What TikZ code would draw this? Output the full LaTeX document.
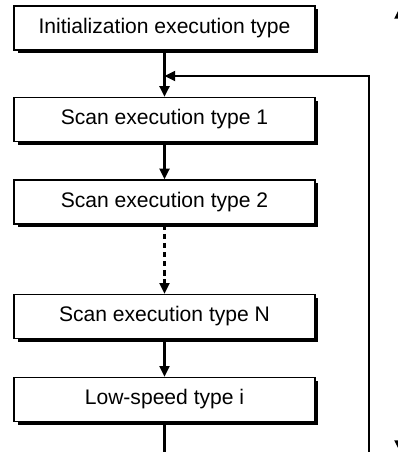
\documentclass[tikz,border=0pt]{standalone}
\usepackage{fontspec}
\setmainfont{Liberation Sans}
\usetikzlibrary{positioning, arrows.meta, shadows}

\tikzset{
  typebox/.style={draw, line width=0.8pt, fill=white, minimum width=6.02cm,
    minimum height=0.88cm, inner sep=0pt, font=\fontsize{12}{14}\selectfont,
    drop shadow={shadow xshift=0.07cm, shadow yshift=-0.07cm, opacity=1, fill=black}},
  flow/.style={line width=1.3pt},
}

\begin{document}
\begin{tikzpicture}[x=0.02cm, y=-0.02cm, >={Triangle[length=6pt,width=5.6pt]}, on grid]
		\useasboundingbox (0,0) rectangle (398,452);
		
		%Execution types
		\node[typebox] (init) at (164.5,28) {Initialization execution type};
		\node[typebox] (scan1) [below=1.83cm of init] {Scan execution type 1};
		\node[typebox] (scan2) [below=1.65cm of scan1] {Scan execution type 2};
		\node[typebox] (scanN) [below=2.29cm of scan2] {Scan execution type N};
		\node[typebox] (lowspeed) [below=1.66cm of scanN] {Low-speed type i};
		
		%Return path
		\coordinate (lowend) at (lowspeed.south |- 0,452);
		\coordinate (retbottom) at (369,452);
		\coordinate (retcorner) at (369,76);
		\coordinate (join) at (init.south |- 0,76);
		\coordinate (spantop) at (399.5,8);
		\coordinate (spanbot) at (399.5,451);
		
		%Flow lines
		\draw[flow,->] (init) -- (scan1);
		\draw[flow,->] (scan1) -- (scan2);
		\draw[flow,->,dash pattern=on 3pt off 2.2pt] (scan2) -- (scanN);
		\draw[flow,->] (scanN) -- (lowspeed);
		\draw[flow] (lowspeed) -- (lowend);
		\draw[flow,->] (retbottom) -- (retcorner) -- (join);
		\draw[flow,<->] (spantop) -- (spanbot);
		
\end{tikzpicture}
\end{document}
